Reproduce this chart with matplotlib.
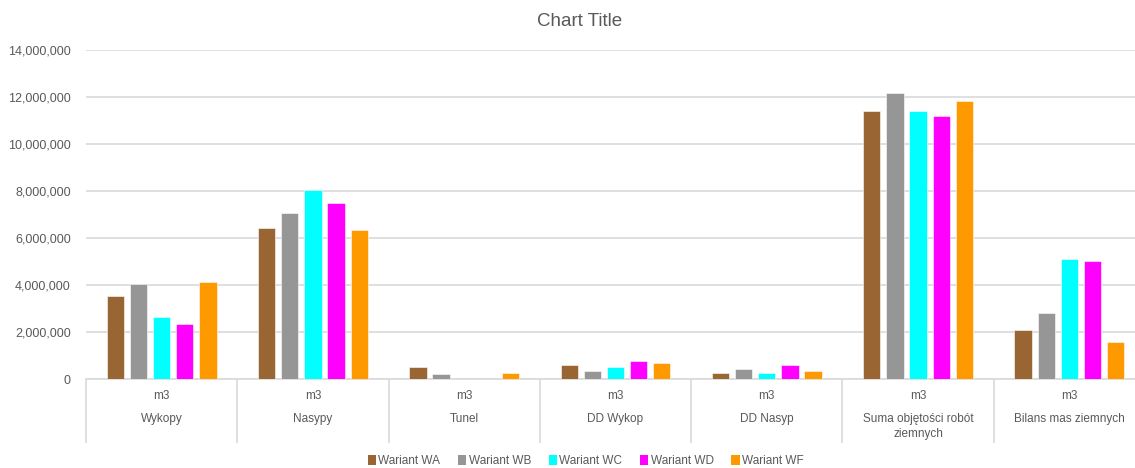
import matplotlib.pyplot as plt
import numpy as np
from matplotlib.patches import Patch

# --- data -------------------------------------------------------------
CATEGORIES = ["Wykopy", "Nasypy", "Tunel", "DD Wykop", "DD Nasyp",
              "Suma objętości robót\nziemnych", "Bilans mas ziemnych"]
UNIT = "m3"
SERIES = ["Wariant WA", "Wariant WB", "Wariant WC", "Wariant WD", "Wariant WF"]

WA = [3550000, 6410000, 510000, 610000, 270000, 11420000, 2080000]
WB = [4030000, 7080000, 200000, 350000, 440000, 12180000, 2820000]
WC = [2640000, 8040000, 0, 520000, 270000, 11420000, 5110000]
WD = [2320000, 7490000, 0, 770000, 610000, 11200000, 5040000]
WF = [4110000, 6320000, 270000, 680000, 350000, 11840000, 1590000]

COLORS = ["#996633", "#969696", "#00FFFF", "#FF00FF", "#FF9900"]
TEXT = "#595959"
GRID = "#d9d9d9"

plt.rcParams["font.family"] = ["Liberation Sans", "DejaVu Sans"]

# --- figure -----------------------------------------------------------
fig = plt.figure(figsize=(11.35, 4.68), dpi=100)
ax = fig.add_axes([86 / 1135, 1 - 379 / 468, 1059 / 1135, 329 / 468])

x = np.arange(len(CATEGORIES))
pitch, width = 0.153, 0.114
for i, (vals, c) in enumerate(zip([WA, WB, WC, WD, WF], COLORS)):
    ax.bar(x + (i - 2) * pitch, vals, width, color=c,
           edgecolor="white", linewidth=0.4, zorder=3)

ax.set_xlim(-0.5, len(CATEGORIES) - 0.5)
ax.set_ylim(0, 14_000_000)
ax.set_yticks(np.arange(0, 14_000_001, 2_000_000))
ax.yaxis.set_major_formatter(plt.FuncFormatter(lambda v, _: f"{v:,.0f}"))
ax.tick_params(axis="y", length=0, pad=11, labelsize=9, labelcolor=TEXT)
ax.yaxis.grid(True, color=GRID, linewidth=1.2, zorder=0)

# category axis: separators as long minor ticks
ax.set_xticks([])
ax.set_xticks(np.arange(-0.5, len(CATEGORIES)), minor=True)
ax.tick_params(axis="x", which="minor", length=46, width=1.2, color=GRID,
               direction="out")
for s in ["top", "right", "left"]:
    ax.spines[s].set_visible(False)
ax.spines["bottom"].set_color(GRID)
ax.spines["bottom"].set_linewidth(1.2)

tr = ax.get_xaxis_transform()
for xi, name in zip(x, CATEGORIES):
    ax.text(xi, -17 / 329, UNIT, transform=tr, ha="center", va="center",
            fontsize=8.5, color=TEXT)
    ax.text(xi, -34 / 329, name, transform=tr, ha="center", va="top",
            fontsize=8.5, color=TEXT, linespacing=1.35)

fig.suptitle("Chart Title", x=0.511, y=1 - 22 / 468, va="center",
             fontsize=13.5, color=TEXT)

handles = [Patch(facecolor=c, edgecolor="none") for c in COLORS]
fig.legend(handles, SERIES, loc="center", bbox_to_anchor=(0.516, 1 - 461 / 468),
           ncol=5, frameon=False, fontsize=8.5, labelcolor=TEXT,
           handlelength=0.7, handleheight=0.9, handletextpad=0.2,
           columnspacing=1.5)

fig.savefig("out.png", dpi=100)
